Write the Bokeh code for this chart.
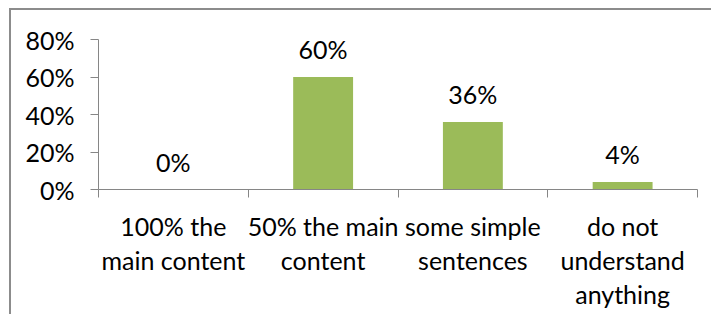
from bokeh.plotting import figure
from bokeh.models import (ColumnDataSource, Range1d, LinearAxis,
                          FixedTicker, NumeralTickFormatter)
from bokeh.core.properties import value
from bokeh.embed import file_html
from bokeh.resources import INLINE

# ---- data ----
categories = ["100% the\nmain content", "50% the main\ncontent",
              "some simple\nsentences", "do not\nunderstand\nanything"]
shares = [0.00, 0.60, 0.36, 0.04]
share_labels = ["0%", "60%", "36%", "4%"]
y_ticks = [0.0, 0.2, 0.4, 0.6, 0.8]

FONT = "Lato"
FS = "25px"
AXIS_GRAY = "#868686"
GREEN = "#9BBB59"

n = len(categories)
pos = list(range(n))
src = ColumnDataSource(dict(x=pos, val=shares, lab=share_labels))

p = figure(width=702, height=306, output_backend="svg", toolbar_location=None,
           x_range=Range1d(-0.5, n - 0.5), y_range=Range1d(0, 0.8),
           x_axis_location=None,
           min_border_left=87, min_border_right=16, min_border_top=29,
           min_border_bottom=127)
p.styles = {"margin-left": "9px", "margin-top": "8px",
            "border-left": "2px solid #8c8c8c", "border-top": "2px solid #8c8c8c"}
p.outline_line_color = None
p.xgrid.grid_line_color = None
p.ygrid.grid_line_color = None
p.background_fill_color = "white"
p.border_fill_color = "white"

p.vbar(x="x", top="val", width=0.4, source=src, fill_color=GREEN,
       line_color=None)
p.text(x="x", y="val", text="lab", source=src, text_align="center",
       text_baseline="alphabetic", y_offset=-28, text_font=value(FONT),
       text_font_size=FS, text_color="black")

# y axis
ya = p.yaxis[0]
ya.ticker = FixedTicker(ticks=y_ticks)
ya.formatter = NumeralTickFormatter(format="0%")
ya.axis_line_color = AXIS_GRAY
ya.major_tick_line_color = AXIS_GRAY
ya.major_tick_out = 8
ya.major_tick_in = 0
ya.minor_tick_line_color = None
ya.major_label_text_font = FONT
ya.major_label_text_font_size = FS
ya.major_label_text_color = "black"
ya.major_label_standoff = 16

# x axis: category labels at centres, ticks (minor) at category boundaries
cat_axis = LinearAxis(ticker=FixedTicker(ticks=pos,
                                         minor_ticks=[i - 0.5 for i in range(n + 1)]),
                      major_label_overrides={i: c for i, c in zip(pos, categories)},
                      axis_line_color=AXIS_GRAY,
                      major_tick_line_color=None, major_tick_out=0, major_tick_in=0,
                      minor_tick_line_color=AXIS_GRAY, minor_tick_out=8,
                      minor_tick_in=0,
                      major_label_text_font=FONT,
                      major_label_text_font_size=FS,
                      major_label_text_color="black",
                      major_label_text_line_height=1.14,
                      major_label_standoff=13)
p.add_layout(cat_axis, "below")

open("out.html", "w").write(file_html(p, INLINE))
